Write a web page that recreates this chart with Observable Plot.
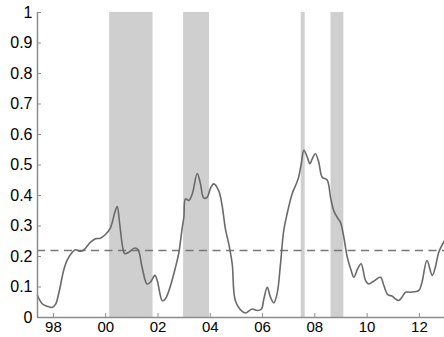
<!DOCTYPE html>
<html>
<head>
<meta charset="utf-8">
<script src="https://cdn.jsdelivr.net/npm/d3@7"></script>
<script src="https://cdn.jsdelivr.net/npm/@observablehq/plot@0.6"></script>
<style>
  html, body { margin: 0; padding: 0; background: #fff; }
  #chart svg { display: block; }
</style>
</head>
<body>
<div id="chart"></div>
<script>
// Series (year, value)
const years = [
  1997.39, 1997.57, 1997.76, 1997.95, 1998.08, 1998.20, 1998.39, 1998.52, 1998.72, 1998.84,
  1999.03, 1999.16, 1999.42, 1999.61, 1999.80, 1999.99, 2000.18, 2000.35, 2000.44, 2000.52,
  2000.65, 2000.73, 2000.88, 2001.11, 2001.24, 2001.39, 2001.58, 2001.71, 2001.88, 2001.97,
  2002.09, 2002.16, 2002.28, 2002.48, 2002.67, 2002.79, 2002.92, 2002.99, 2003.05, 2003.18,
  2003.31, 2003.50, 2003.62, 2003.75, 2003.88, 2004.01, 2004.13, 2004.32, 2004.45, 2004.58,
  2004.71, 2004.84, 2004.96, 2005.22, 2005.35, 2005.60, 2005.79, 2005.95, 2006.05, 2006.18,
  2006.30, 2006.43, 2006.56, 2006.68, 2006.81, 2006.94, 2007.13, 2007.30, 2007.38, 2007.48,
  2007.58, 2007.71, 2007.81, 2007.90, 2008.02, 2008.15, 2008.28, 2008.47, 2008.60, 2008.72,
  2008.85, 2008.98, 2009.11, 2009.24, 2009.39, 2009.49, 2009.64, 2009.77, 2009.94, 2010.06,
  2010.25, 2010.51, 2010.64, 2010.79, 2010.96, 2011.08, 2011.21, 2011.34, 2011.47, 2011.66,
  2011.98, 2012.10, 2012.29, 2012.49, 2012.61, 2012.74, 2012.96
];
const values = [
  0.072, 0.045, 0.037, 0.033, 0.043, 0.078, 0.154, 0.187, 0.214, 0.222,
  0.217, 0.222, 0.247, 0.258, 0.260, 0.272, 0.294, 0.345, 0.364, 0.318,
  0.230, 0.209, 0.214, 0.228, 0.222, 0.165, 0.110, 0.116, 0.138, 0.121,
  0.072, 0.055, 0.061, 0.105, 0.165, 0.209, 0.290, 0.329, 0.389, 0.384,
  0.405, 0.472, 0.440, 0.392, 0.394, 0.424, 0.438, 0.416, 0.368, 0.290,
  0.240, 0.175, 0.055, 0.020, 0.015, 0.028, 0.023, 0.027, 0.061, 0.099,
  0.067, 0.048, 0.080, 0.170, 0.285, 0.340, 0.405, 0.440, 0.460, 0.504,
  0.548, 0.526, 0.504, 0.520, 0.537, 0.509, 0.460, 0.451, 0.394, 0.351,
  0.329, 0.312, 0.263, 0.198, 0.154, 0.132, 0.160, 0.176, 0.121, 0.110,
  0.119, 0.132, 0.105, 0.075, 0.070, 0.061, 0.056, 0.067, 0.083, 0.083,
  0.089, 0.116, 0.187, 0.138, 0.165, 0.214, 0.252
];

// Shaded periods
const shadeStart = [2000.15, 2002.98, 2007.48, 2008.62];
const shadeEnd   = [2001.81, 2003.97, 2007.63, 2009.11];

// Threshold (dashed line)
const threshold = [0.22];

// Ticks
const xTicks = [1998, 2000, 2002, 2004, 2006, 2008, 2010, 2012];
const xTickLabels = ["98", "00", "02", "04", "06", "08", "10", "12"];
const yTicks = [0, 0.1, 0.2, 0.3, 0.4, 0.5, 0.6, 0.7, 0.8, 0.9, 1];
const yTickLabels = ["0", "0.1", "0.2", "0.3", "0.4", "0.5", "0.6", "0.7", "0.8", "0.9", "1"];

const xDomain = [1997.39, 2012.96];

const series = years.map((t, i) => ({t, v: values[i]}));
const shades = shadeStart.map((s, i) => ({s, e: shadeEnd[i]}));

const axisColor = "#8c8c8c";

const chart = Plot.plot({
  width: 444,
  height: 337,
  marginLeft: 37,
  marginRight: 0,
  marginTop: 12,
  marginBottom: 20,
  style: {fontFamily: "'Liberation Sans', Arial, Helvetica, sans-serif", fontSize: "16px", color: "#000", background: "#fff"},
  x: {domain: xDomain},
  y: {domain: [0, 1]},
  marks: [
    Plot.rect(shades, {x1: "s", x2: "e", y1: 0, y2: 1, fill: "#cfcfcf"}),
    Plot.ruleY(threshold, {stroke: "#777", strokeWidth: 1.5, strokeDasharray: "8,5.5"}),
    Plot.line(series, {x: "t", y: "v", stroke: "#6a6a6a", strokeWidth: 1.6, curve: "catmull-rom"}),
    // axis lines
    Plot.ruleX([xDomain[0]], {y1: 0, y2: 1, stroke: axisColor, strokeWidth: 1.5}),
    Plot.ruleY([0], {stroke: axisColor, strokeWidth: 1.5}),
    // inward ticks
    Plot.axisY({ticks: yTicks, tickSize: -4, stroke: axisColor, fill: "none", tickFormat: () => ""}),
    Plot.axisX({ticks: xTicks, tickSize: -4, stroke: axisColor, fill: "none", tickFormat: () => ""}),
    // labels
    Plot.axisY({ticks: yTicks, tickSize: 0, tickPadding: 5, fill: "#000",
      tickFormat: d => yTickLabels[yTicks.indexOf(d)], label: null}),
    Plot.axisX({ticks: xTicks, tickSize: 0, tickPadding: 4, fill: "#000", fontSize: 15,
      tickFormat: d => xTickLabels[xTicks.indexOf(d)], label: null})
  ]
});
document.getElementById("chart").appendChild(chart);
</script>
</body>
</html>
